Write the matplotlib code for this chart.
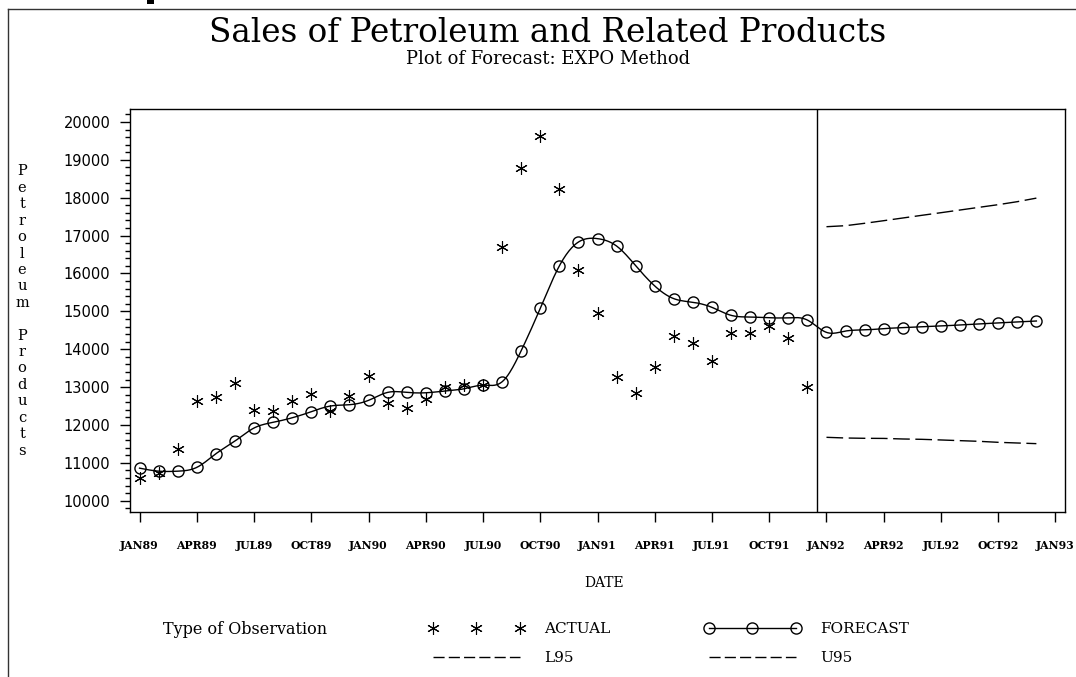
import matplotlib
matplotlib.use('Agg')
import matplotlib.pyplot as plt
import numpy as np
from matplotlib.lines import Line2D
from matplotlib.patches import Rectangle
from matplotlib.ticker import MultipleLocator

# month index 0 = JAN89
tick_labels = ['JAN89', 'APR89', 'JUL89', 'OCT89', 'JAN90', 'APR90', 'JUL90', 'OCT90',
               'JAN91', 'APR91', 'JUL91', 'OCT91', 'JAN92', 'APR92', 'JUL92', 'OCT92', 'JAN93']

# JAN89 .. DEC91
actual = [10590, 10730, 11370, 12640, 12740, 13100, 12395, 12370, 12640, 12810, 12380, 12765,
          13290, 12590, 12455, 12695, 13010, 13060, 13060, 16700, 18780, 19630, 18220, 16090,
          14950, 13275, 12850, 13530, 14360, 14155, 13700, 14420, 14435, 14610, 14290, 13010]

# JAN89 .. DEC92
forecast = [10860, 10780, 10780, 10880, 11240, 11575, 11920, 12070, 12190, 12350, 12500, 12535,
            12650, 12860, 12860, 12850, 12895, 12955, 13050, 13140, 13960, 15080, 16200, 16830,
            16920, 16725, 16205, 15670, 15335, 15240, 15105, 14895, 14850, 14830, 14830, 14770,
            14445, 14480, 14510, 14545, 14570, 14595, 14615, 14640, 14665, 14695, 14720, 14745]

# JAN92 .. DEC92
l95 = [11674, 11656, 11648, 11645, 11630, 11621, 11604, 11586, 11568, 11542, 11524, 11507]
u95 = [17235, 17262, 17325, 17394, 17465, 17536, 17605, 17676, 17747, 17817, 17896, 17990]

actual_month = np.arange(len(actual))
forecast_month = np.arange(len(forecast))
ci_month = np.arange(len(actual), len(forecast))
last_actual = len(actual) - 0.5


def natural_spline(x, y, n=20):
    x = np.asarray(x, float)
    y = np.asarray(y, float)
    m = len(x)
    h = np.diff(x)
    A = np.zeros((m, m))
    b = np.zeros(m)
    A[0, 0] = A[-1, -1] = 1
    for i in range(1, m - 1):
        A[i, i - 1] = h[i - 1]
        A[i, i] = 2 * (h[i - 1] + h[i])
        A[i, i + 1] = h[i]
        b[i] = 3 * ((y[i + 1] - y[i]) / h[i] - (y[i] - y[i - 1]) / h[i - 1])
    c = np.linalg.solve(A, b)
    xs, ys = [], []
    for i in range(m - 1):
        t = np.linspace(0, h[i], n, endpoint=False)
        bi = (y[i + 1] - y[i]) / h[i] - h[i] * (2 * c[i] + c[i + 1]) / 3
        di = (c[i + 1] - c[i]) / (3 * h[i])
        xs.append(x[i] + t)
        ys.append(y[i] + bi * t + c[i] * t ** 2 + di * t ** 3)
    xs.append([x[-1]])
    ys.append([y[-1]])
    return np.concatenate(xs), np.concatenate(ys)


W, H = 1076, 677
fig = plt.figure(figsize=(W / 100, H / 100), dpi=100)
ax = fig.add_axes([130 / W, 1 - 511.7 / H, (1065 - 130) / W, (511.7 - 109) / H])

star = (6, 2, 0)
ax.plot(actual_month, actual, linestyle='none', marker=star, markersize=9,
        markeredgewidth=0.8, color='black')
sx, sy = natural_spline(forecast_month, forecast)
ax.plot(sx, sy, color='black', lw=1)
ax.plot(forecast_month, forecast, linestyle='none', marker='o', markersize=8,
        markerfacecolor='none', markeredgecolor='black', markeredgewidth=1)
ax.plot(ci_month, l95, color='black', lw=1, linestyle=(0, (12, 4)))
ax.plot(ci_month, u95, color='black', lw=1, linestyle=(0, (12, 4)))
ax.axvline(last_actual, color='black', lw=1)

ax.set_xlim(-0.5, 48.5)
ax.set_ylim(9710, 20343)
ax.set_xticks(np.arange(0, 49, 3))
ax.set_xticklabels(tick_labels, family='DejaVu Serif', fontweight='bold', fontsize=7.8)
ax.set_yticks(np.arange(10000, 20001, 1000))
ax.set_yticklabels([str(v) for v in range(10000, 20001, 1000)], family='DejaVu Sans', fontsize=10.5)
ax.yaxis.set_minor_locator(MultipleLocator(200))
ax.tick_params(axis='x', direction='out', length=7.2, width=1, pad=13, top=False)
ax.tick_params(axis='y', which='major', direction='out', length=7.2, width=1, pad=7, right=False)
ax.tick_params(axis='y', which='minor', direction='out', length=3.5, width=1, right=False)
for s in ax.spines.values():
    s.set_linewidth(1)

fig.text(548 / W, 1 - 33 / H, 'Sales of Petroleum and Related Products', ha='center', va='center',
         family='DejaVu Serif', fontsize=23.5)
fig.text(548 / W, 1 - 59 / H, 'Plot of Forecast: EXPO Method', ha='center', va='center',
         family='DejaVu Serif', fontsize=13)
fig.text(604 / W, 1 - 583 / H, 'DATE', ha='center', va='center', family='DejaVu Serif', fontsize=10)

ylab = '\n'.join(list('Petroleum') + [''] + list('Products'))
fig.text(22 / W, 1 - 311 / H, ylab, ha='center', va='center', family='DejaVu Serif',
         fontsize=10.5, linespacing=1.22)

# stub of something printed above the page frame
fig.add_artist(Rectangle((147 / W, 1 - 4 / H), 7 / W, 4 / H, transform=fig.transFigure,
                         color='black', lw=0))

# frame around the page
fig.add_artist(Line2D([7.5 / W, 7.5 / W], [0, 1 - 8.5 / H], color='#333333', lw=1))
fig.add_artist(Line2D([7.5 / W, 1], [1 - 8.5 / H, 1 - 8.5 / H], color='#333333', lw=1))

# legend
fig.text(163 / W, 1 - 629 / H, 'Type of Observation', ha='left', va='center',
         family='DejaVu Serif', fontsize=11.5)
h_act = Line2D([], [], linestyle='none', marker=star, markersize=9, markeredgewidth=0.8, color='black')
h_fc = Line2D([], [], color='black', lw=1, marker='o', markersize=8, markerfacecolor='none',
              markeredgecolor='black')
h_l = Line2D([], [], color='black', lw=1, linestyle=(0, (8, 3)))
h_u = Line2D([], [], color='black', lw=1, linestyle=(0, (8, 3)))
fig.legend([h_act, h_l, h_fc, h_u], ['ACTUAL', 'L95', 'FORECAST', 'U95'], ncol=2,
           loc='upper left', bbox_to_anchor=(428 / W, 1 - 622 / H), borderaxespad=0,
           borderpad=0, frameon=False, numpoints=3, handlelength=6.3, handletextpad=1.3,
           columnspacing=6.15, labelspacing=1.0, prop={'family': 'DejaVu Serif', 'size': 11})

fig.savefig('out.png', dpi=100)
